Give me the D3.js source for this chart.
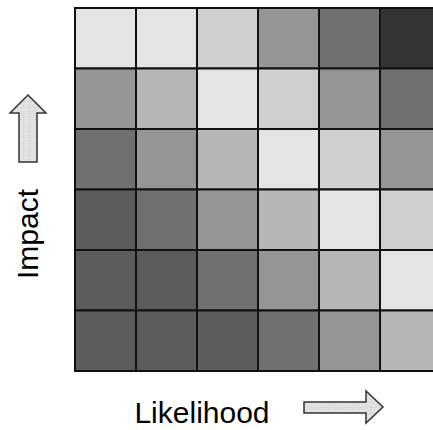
<!DOCTYPE html>
<html>
  <head>
    <title>Risk Matrix</title>
    <script src="https://unpkg.com/d3@7/dist/d3.min.js"></script>
    <style>
      body { margin: 0; background: #fff; }
      text { font-family: "Liberation Sans", Arial, sans-serif; }
    </style>
  </head>
  <body>
    <svg width="433" height="430"></svg>

    <script>
      // likelihood columns, impact rows (top row = highest impact)
      const likelihood = [1, 2, 3, 4, 5, 6];
      const impact = [6, 5, 4, 3, 2, 1];

      // shade level per cell, one array per impact row, left to right
      const row6 = [1, 1, 2, 4, 5, 7];
      const row5 = [4, 3, 1, 2, 4, 5];
      const row4 = [5, 4, 3, 1, 2, 4];
      const row3 = [6, 5, 4, 3, 1, 2];
      const row2 = [6, 6, 5, 4, 3, 1];
      const row1 = [6, 6, 6, 5, 4, 3];
      const rows = [row6, row5, row4, row3, row2, row1];

      const levels = [1, 2, 3, 4, 5, 6, 7];
      const shades = ["#e4e4e4", "#d0d0d0", "#b6b6b6", "#959595", "#707070", "#5c5c5c", "#343434"];

      const cells = [];
      rows.forEach((r, i) => r.forEach((v, j) => {
        cells.push({ impact: impact[i], likelihood: likelihood[j], level: v });
      }));

      const svg = d3.select("svg");

      const xScale = d3.scaleBand().domain(likelihood).range([75, 441]);
      const yScale = d3.scaleBand().domain(impact).range([8, 371]);
      const color = d3.scaleOrdinal().domain(levels).range(shades);

      svg.append("g")
        .selectAll("rect")
        .data(cells)
        .enter()
        .append("rect")
          .attr("x", d => xScale(d.likelihood))
          .attr("y", d => yScale(d.impact))
          .attr("width", xScale.bandwidth())
          .attr("height", yScale.bandwidth())
          .attr("fill", d => color(d.level))
          .attr("stroke", "#111")
          .attr("stroke-width", 2);

      // hatch pattern for arrows
      const defs = svg.append("defs");
      const pat = defs.append("pattern")
        .attr("id", "grid")
        .attr("width", 6).attr("height", 6)
        .attr("patternUnits", "userSpaceOnUse");
      pat.append("rect").attr("width", 6).attr("height", 6).attr("fill", "#e2e2e2");
      pat.append("path").attr("d", "M6 0V6M0 6H6").attr("stroke", "#d2d2d2").attr("stroke-width", 0.8);

      // up arrow (impact)
      svg.append("path")
        .attr("d", "M28,95 L46,113 L37,113 L37,162 L19,162 L19,113 L10,113 Z")
        .attr("fill", "url(#grid)")
        .attr("stroke", "#333")
        .attr("stroke-width", 1.5);

      // right arrow (likelihood)
      svg.append("path")
        .attr("d", "M383,407 L366,391 L366,402 L304,402 L304,413 L366,413 L366,423 Z")
        .attr("fill", "url(#grid)")
        .attr("stroke", "#333")
        .attr("stroke-width", 1.5);

      svg.append("text")
        .attr("transform", "translate(38,234) rotate(-90)")
        .attr("text-anchor", "middle")
        .attr("font-size", 30)
        .attr("fill", "#000")
        .text("Impact");

      svg.append("text")
        .attr("x", 202)
        .attr("y", 423)
        .attr("text-anchor", "middle")
        .attr("font-size", 30)
        .attr("fill", "#000")
        .text("Likelihood");
    </script>
  </body>
</html>
